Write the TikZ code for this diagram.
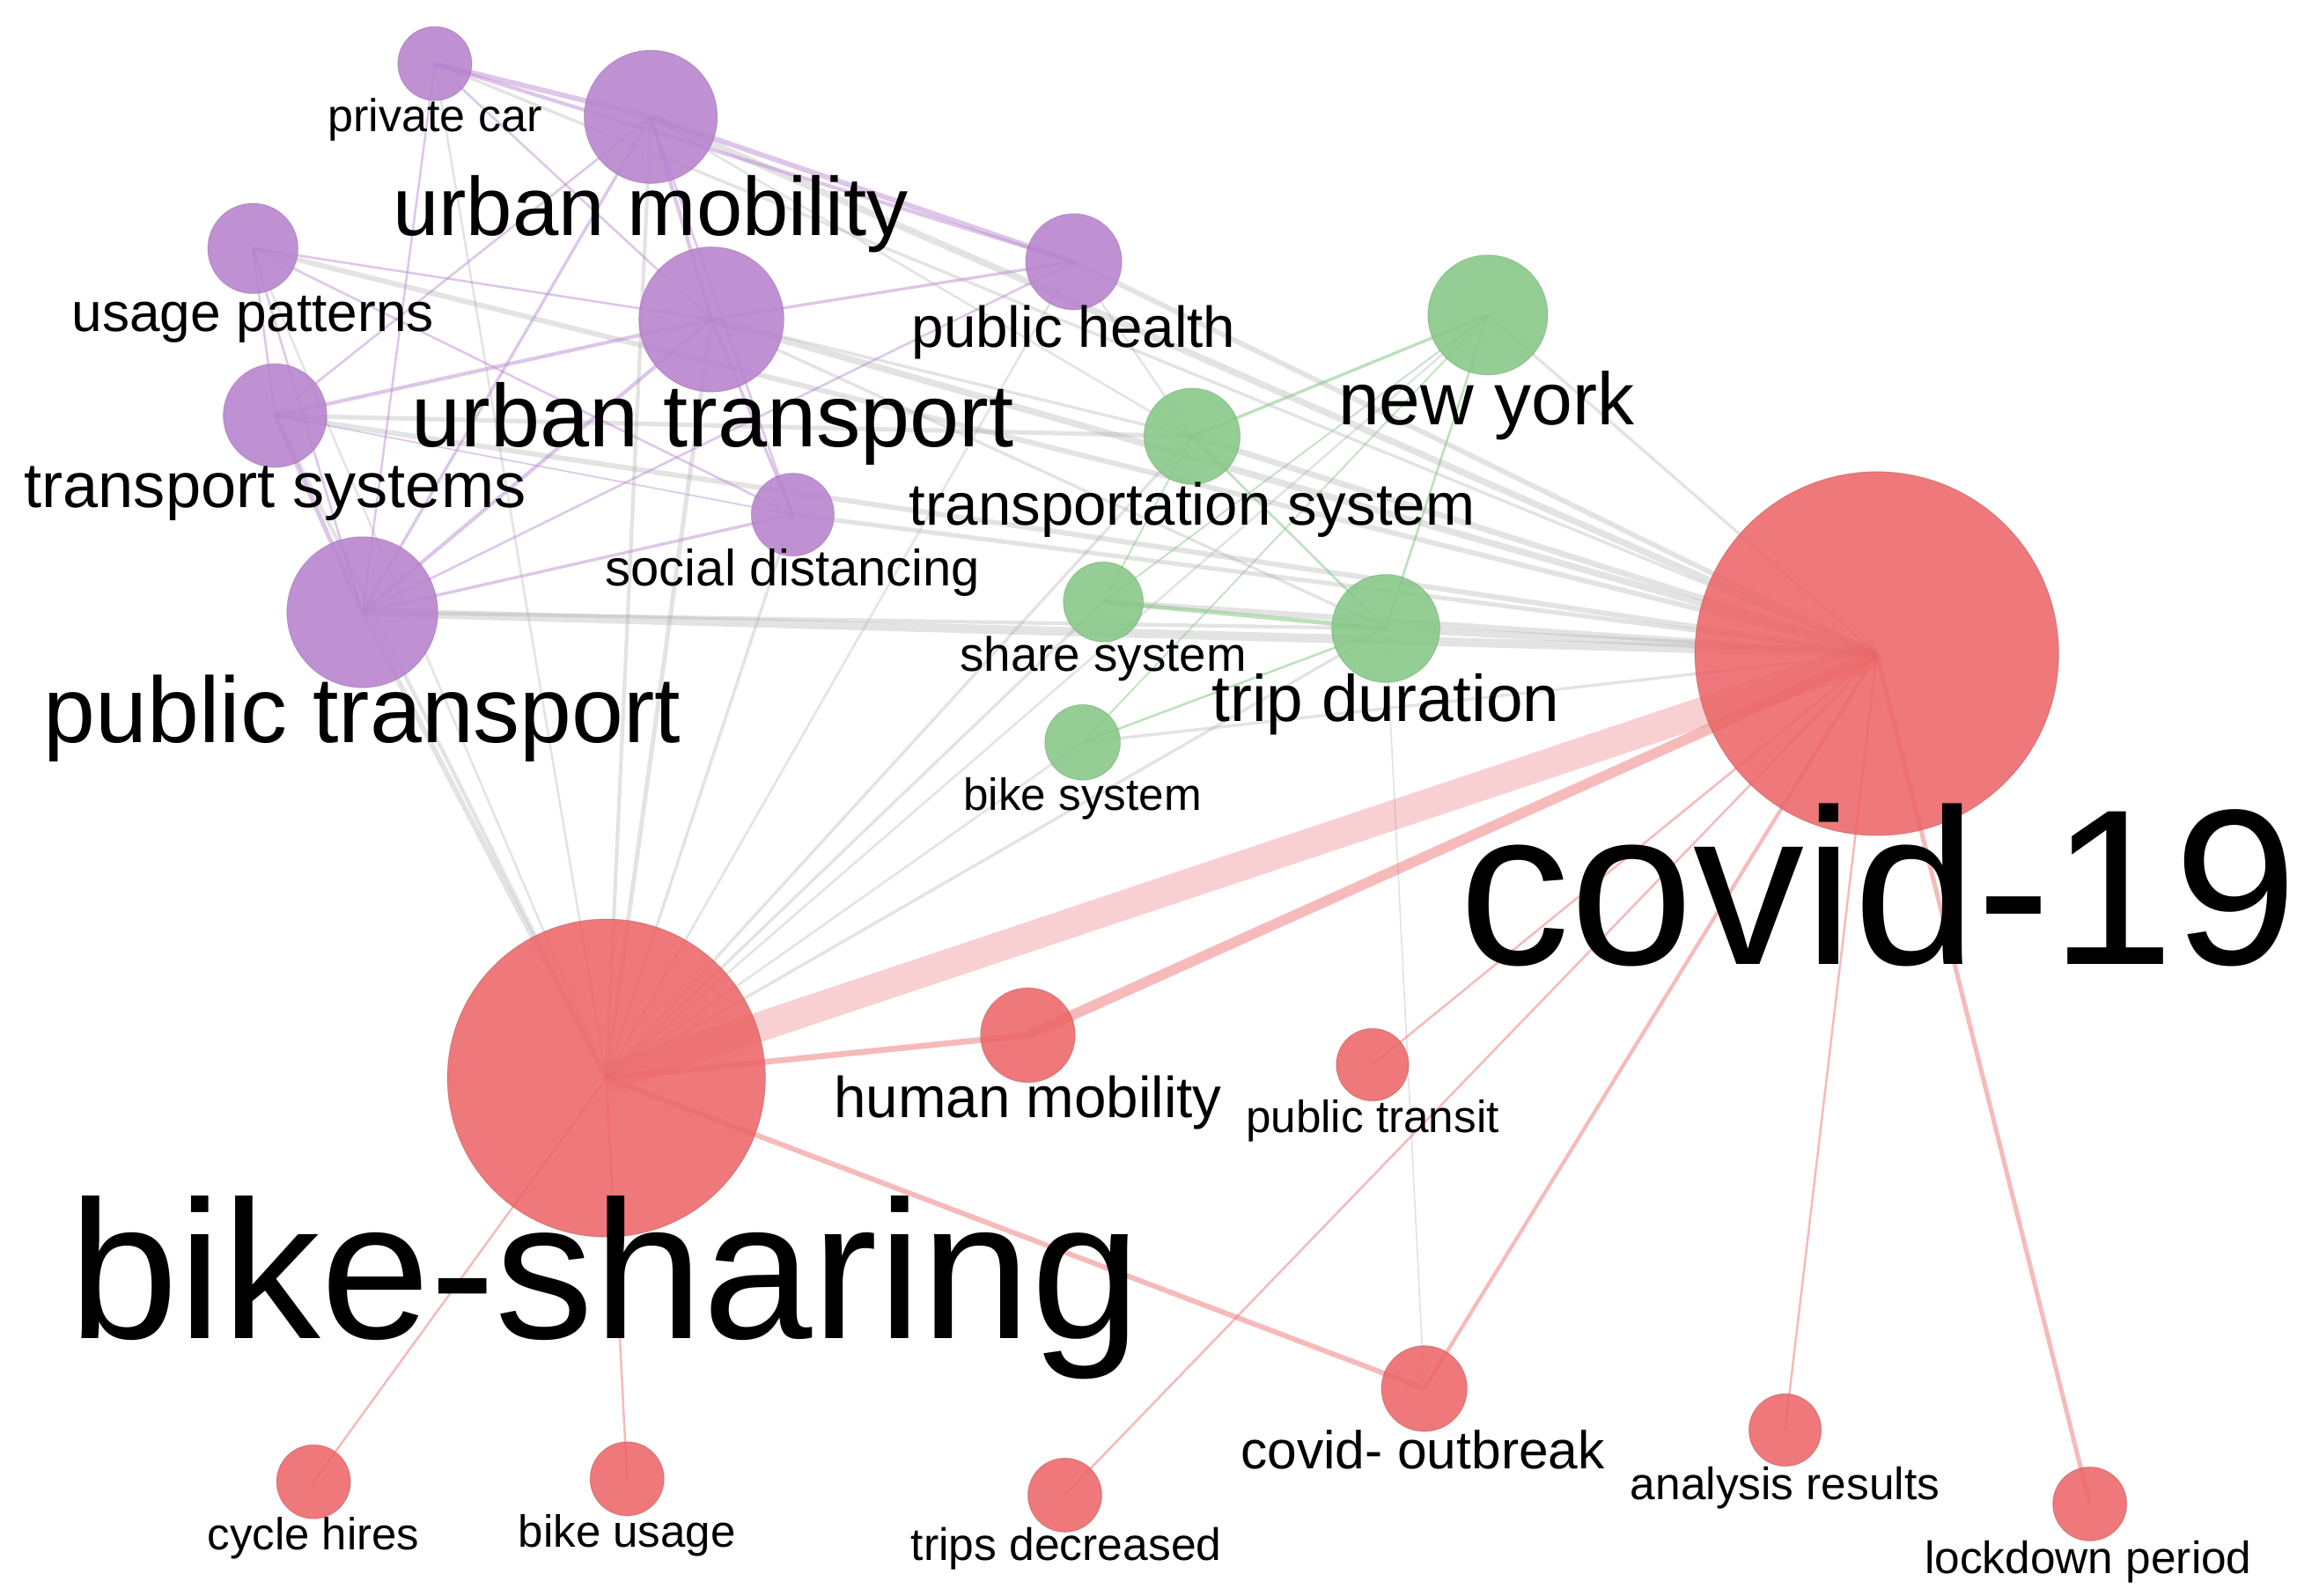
\documentclass[tikz,border=0pt]{standalone}
\usepackage{fontspec}
\setmainfont{Liberation Sans}
\definecolor{purp}{RGB}{183,130,206}
\definecolor{grn}{RGB}{134,200,134}
\definecolor{rd}{RGB}{236,102,104}
\definecolor{edgegray}{RGB}{170,170,170}
\pgfdeclarelayer{bg}
\pgfsetlayers{bg,main}
\begin{document}
\begin{tikzpicture}[x=1pt,y=-1pt,
  nd/.style={circle,inner sep=0pt,minimum size=#1,fill opacity=0.88,draw opacity=0.35,line width=0.6pt},
  pn/.style={nd=#1,fill=purp,draw=purp!70!black},
  gn/.style={nd=#1,fill=grn,draw=grn!70!black},
  rn/.style={nd=#1,fill=rd,draw=rd!70!black},
  lbl/.style={anchor=base,inner sep=0pt,text=black,font=\fontsize{#1}{#1}\selectfont},
  pe/.style={draw=purp,opacity=0.45},
  ge/.style={draw=edgegray,opacity=0.33},
  gre/.style={draw=grn,opacity=0.55},
  re/.style={draw=rd,opacity=0.45}
]
\useasboundingbox (0,0) rectangle (1568,1079);
% nodes (purple)
\node[pn=50pt] (pc) at (294,43) {};
\node[pn=90pt] (um) at (440,79) {};
\node[pn=61pt] (up) at (171,168) {};
\node[pn=65pt] (ph) at (726,177) {};
\node[pn=98pt] (ut) at (481,216) {};
\node[pn=70pt] (ts) at (186,281) {};
\node[pn=56pt] (sd) at (536,348) {};
\node[pn=102pt] (pt) at (245,414) {};
% nodes (green)
\node[gn=81pt] (ny) at (1006,213) {};
\node[gn=65pt] (tsy) at (806,295) {};
\node[gn=54pt] (ss) at (746,407) {};
\node[gn=73pt] (td) at (937,425) {};
\node[gn=51pt] (bsy) at (732,502) {};
% nodes (red)
\node[rn=246pt] (cv) at (1269,442) {};
\node[rn=215pt] (bs) at (410,729) {};
\node[rn=64pt] (hm) at (695,700) {};
\node[rn=49pt] (ptr) at (928,720) {};
\node[rn=58pt] (co) at (963,939) {};
\node[rn=49pt] (ar) at (1207,967) {};
\node[rn=50pt] (lp) at (1413,1017) {};
\node[rn=50pt] (tdc) at (720,1011) {};
\node[rn=50pt] (ch) at (212,1002) {};
\node[rn=50pt] (bu) at (424,1000) {};

\begin{pgfonlayer}{bg}
\fill[white] (0,0) rectangle (1568,1079);
% gray inter-cluster links
\foreach \a/\b/\w in {pt/cv/6,ut/cv/4.5,um/cv/4.5,up/cv/3.5,ts/cv/3.5,sd/cv/3,ph/cv/3.5,pc/cv/2,ny/cv/2,tsy/cv/4,ss/cv/4,td/cv/5,bsy/cv/2,pt/td/2.5,ts/tsy/3,ut/tsy/2,ut/td/2,um/tsy/1.5,
  pt/bs/3.5,ts/bs/2.5,up/bs/1.5,pc/bs/1.5,um/bs/2.5,ut/bs/3,sd/bs/2,ph/bs/1.5,tsy/bs/2,ss/bs/2,bsy/bs/1.5,ny/bs/1.5,td/bs/2,td/co/1,ph/tsy/1.5}
  \draw[ge,line width=\w pt] (\a.center) -- (\b.center);
% purple links
\foreach \a/\b/\w in {pc/um/3.5,pc/ut/1.5,pc/pt/1.5,pc/ph/2.5,um/ut/2.5,um/ph/3.5,um/ts/1.5,um/pt/2,um/sd/1.5,up/ts/1.5,up/pt/1.5,up/ut/1.5,up/sd/1.5,ut/ts/2.5,ut/pt/2.5,ut/ph/2,ut/sd/2,ts/pt/3,ts/sd/1,pt/sd/2,pt/ph/1.5}
  \draw[pe,line width=\w pt] (\a.center) -- (\b.center);
% green links
\foreach \a/\b/\w in {ny/tsy/2,ny/td/1.5,ny/ss/1,ny/bsy/1,tsy/td/1.5,ss/td/3,bsy/td/1.5,tsy/ss/1}
  \draw[gre,line width=\w pt] (\a.center) -- (\b.center);
% red links
\draw[re,opacity=0.3,line width=20pt] (bs.center) -- (cv.center);
\foreach \a/\b/\w in {hm/cv/7,bs/hm/4,cv/ptr/1.5,cv/tdc/1.5,cv/co/2.5,cv/ar/1.5,cv/lp/3,bs/co/3.5,bs/ch/1.5,bs/bu/1.5}
  \draw[re,line width=\w pt] (\a.center) -- (\b.center);
\end{pgfonlayer}

% labels
\node[lbl=31] (lpc) at (294,89) {private car};
\node[lbl=56] (lum) at (440,159) {urban mobility};
\node[lbl=37] (lup) at (171,224) {usage patterns};
\node[lbl=39] (lph) at (726,235) {public health};
\node[lbl=60] (lut) at (482,302) {urban transport};
\node[lbl=43] (lts) at (186,343) {transport systems};
\node[lbl=34.5] (lsd) at (536,396) {social distancing};
\node[lbl=63] (lpt) at (245,502) {public transport};
\node[lbl=50] (lny) at (1005,287) {new york};
\node[lbl=40] (ltsy) at (806,355) {transportation system};
\node[lbl=32.6] (lss) at (746,454) {share system};
\node[lbl=44.5] (ltd) at (937,488) {trip duration};
\node[lbl=30.5] (lbsy) at (732,548) {bike system};
\node[lbl=150] (lcv) at (1270,652) {covid-19};
\node[lbl=133] (lbs) at (409,905) {bike-sharing};
\node[lbl=39] (lhm) at (695,756) {human mobility};
\node[lbl=30.5] (lptr) at (928,766) {public transit};
\node[lbl=36] (lco) at (962,993) {covid- outbreak};
\node[lbl=30.6] (lar) at (1207,1014) {analysis results};
\node[lbl=30.6] (llp) at (1412,1064) {lockdown period};
\node[lbl=30.7] (ltdc) at (721,1055) {trips decreased};
\node[lbl=30.3] (lch) at (212,1048) {cycle hires};
\node[lbl=30.4] (lbu) at (424,1046) {bike usage};
\end{tikzpicture}
\end{document}
